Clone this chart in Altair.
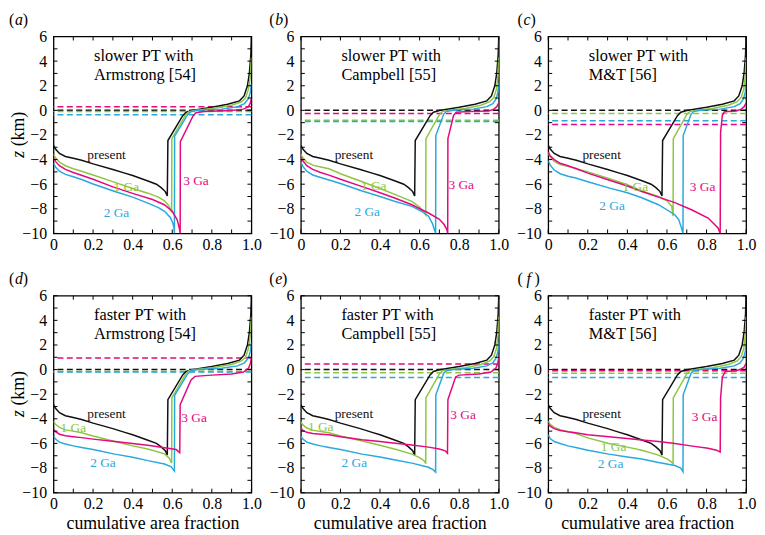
import altair as alt
import pandas as pd

W, H = 200, 199
SERIF = "Liberation Serif"
SERIES = ["present", "1 Ga", "2 Ga", "3 Ga"]
COLORS = ["#111111", "#8dc641", "#29a8df", "#e4097f"]

X_TICKS = [0, 0.1, 0.2, 0.3, 0.4, 0.5, 0.6, 0.7, 0.8, 0.9, 1.0]
X_LABELS = [0, 0.2, 0.4, 0.6, 0.8, 1.0]
Y_TICKS = [-10, -9, -8, -7, -6, -5, -4, -3, -2, -1, 0, 1, 2, 3, 4, 5, 6]
Y_LABELS = [-10, -8, -6, -4, -2, 0, 2, 4, 6]

# ---- present-day hypsometry (same in every panel) ----
PRESENT_X = [0, 0.01, 0.03, 0.06, 0.1, 0.142, 0.2, 0.3, 0.36, 0.4, 0.477, 0.52, 0.544, 0.565, 0.575,
             0.578, 0.653, 0.67, 0.70, 0.8, 0.88, 0.94, 0.963, 0.98, 0.99, 0.997, 1.0]
PRESENT_Z = [-2.85, -3.15, -3.5, -3.75, -3.9, -4.05, -4.35, -4.8, -5.1, -5.3, -5.74, -6.0, -6.28, -6.6, -6.95,
             -2.45, -0.43, -0.15, -0.02, 0.25, 0.5, 0.77, 1.17, 2.0, 3.05, 4.5, 6.0]

# ---- continental parts shared by several panels ----
GREEN_SHELF_1_X = [0.598, 0.668, 0.685, 0.72, 0.8, 0.9, 0.95, 0.97, 0.985, 0.995, 1.0]
GREEN_SHELF_1_Z = [-2.3, -0.35, -0.1, 0.0, 0.15, 0.42, 0.7, 1.0, 1.7, 2.8, 4.3]
GREEN_SHELF_2_X = [0.632, 0.70, 0.715, 0.75, 0.83, 0.91, 0.955, 0.975, 0.988, 0.996, 1.0]
GREEN_SHELF_2_Z = [-2.3, -0.35, -0.1, 0.0, 0.15, 0.42, 0.7, 1.05, 1.7, 2.8, 4.3]
BLUE_SHELF_1_X = [0.612, 0.678, 0.695, 0.73, 0.85, 0.93, 0.965, 0.985, 0.995, 1.0]
BLUE_SHELF_1_Z = [-2.1, -0.35, -0.1, 0.0, 0.1, 0.3, 0.55, 0.95, 1.5, 2.2]
BLUE_SHELF_2_X = [0.682, 0.722, 0.735, 0.77, 0.87, 0.94, 0.97, 0.987, 0.996, 1.0]
BLUE_SHELF_2_Z = [-2.05, -0.3, -0.1, 0.0, 0.1, 0.3, 0.55, 0.95, 1.5, 2.2]

# ---- panel (a) ----
A_GREEN_X = [0, 0.01, 0.03, 0.06, 0.1, 0.142, 0.2, 0.31, 0.4, 0.477, 0.53, 0.561, 0.585, 0.597]
A_GREEN_Z = [-3.55, -3.85, -4.2, -4.5, -4.75, -4.95, -5.25, -5.85, -6.35, -6.73, -7.05, -7.35, -7.8, -8.3]
A_BLUE_X = [0, 0.01, 0.03, 0.06, 0.1, 0.142, 0.2, 0.31, 0.4, 0.477, 0.53, 0.561, 0.59, 0.603, 0.609, 0.611]
A_BLUE_Z = [-4.3, -4.6, -4.95, -5.2, -5.4, -5.62, -5.98, -6.6, -7.05, -7.54, -7.9, -8.2, -8.7, -9.15, -9.6, -10]
A_MAG_X = [0, 0.01, 0.03, 0.06, 0.1, 0.2, 0.3, 0.4, 0.5, 0.56, 0.6, 0.625, 0.636, 0.64,
           0.641, 0.705, 0.72, 0.76, 0.9, 0.96, 0.985, 0.995, 1.0]
A_MAG_Z = [-3.85, -4.15, -4.5, -4.8, -5.05, -5.6, -6.22, -6.75, -7.25, -7.67, -8.2, -8.9, -9.6, -10,
           -2.55, -0.45, -0.2, -0.1, -0.02, 0.1, 0.3, 0.6, 1.0]

# ---- panel (b) ----
B_GREEN_X = [0, 0.01, 0.03, 0.06, 0.1, 0.142, 0.2, 0.31, 0.4, 0.477, 0.561, 0.6, 0.625, 0.631]
B_GREEN_Z = [-3.55, -3.85, -4.2, -4.45, -4.6, -4.75, -5.15, -5.8, -6.35, -6.85, -7.4, -7.85, -8.35, -8.5]
B_BLUE_X = [0, 0.01, 0.03, 0.06, 0.1, 0.142, 0.2, 0.31, 0.4, 0.477, 0.561, 0.61, 0.645, 0.665, 0.675, 0.681]
B_BLUE_Z = [-4.2, -4.55, -4.95, -5.25, -5.45, -5.66, -5.95, -6.55, -7.0, -7.4, -7.8, -8.2, -8.6, -9.2, -9.7, -10]
B_MAG_X = [0, 0.01, 0.03, 0.06, 0.1, 0.142, 0.2, 0.31, 0.4, 0.477, 0.561, 0.645, 0.7, 0.725, 0.738, 0.742,
           0.743, 0.772, 0.785, 0.85, 0.95, 0.975, 0.99, 1.0]
B_MAG_Z = [-3.8, -4.1, -4.5, -4.8, -5.05, -5.26, -5.6, -6.2, -6.7, -7.14, -7.67, -8.34, -8.85, -9.3, -9.7, -10,
           -2.3, -0.4, -0.15, -0.1, -0.05, 0.1, 0.3, 0.6]

# ---- panel (c) ----
C_GREEN_X = [0, 0.01, 0.03, 0.06, 0.1, 0.139, 0.2, 0.306, 0.4, 0.473, 0.557, 0.6, 0.624, 0.631]
C_GREEN_Z = [-3.5, -3.8, -4.15, -4.4, -4.55, -4.72, -5.0, -5.53, -6.05, -6.55, -7.0, -7.35, -7.8, -8.6]
C_BLUE_X = [0, 0.01, 0.03, 0.06, 0.1, 0.139, 0.2, 0.306, 0.4, 0.473, 0.557, 0.64, 0.66, 0.673, 0.681]
C_BLUE_Z = [-4.1, -4.45, -4.85, -5.15, -5.35, -5.5, -5.8, -6.3, -6.7, -7.1, -7.67, -8.48, -8.9, -9.55, -10]
C_MAG_X = [0, 0.01, 0.03, 0.06, 0.1, 0.139, 0.2, 0.306, 0.4, 0.473, 0.557, 0.64, 0.724, 0.808, 0.858, 0.869,
           0.871, 0.88, 0.89, 0.95, 0.975, 0.99, 1.0]
C_MAG_Z = [-3.4, -3.7, -4.0, -4.3, -4.5, -4.72, -5.1, -5.66, -6.15, -6.6, -7.05, -7.5, -8.08, -8.75, -9.55, -10,
           -1.8, -0.4, -0.12, -0.05, 0.1, 0.3, 0.6]

# ---- panel (d) ----
D_GREEN_X = [0, 0.01, 0.03, 0.06, 0.1, 0.142, 0.2, 0.31, 0.4, 0.477, 0.561, 0.585, 0.597]
D_GREEN_Z = [-4.2, -4.45, -4.7, -4.9, -5.0, -5.13, -5.4, -5.85, -6.2, -6.45, -6.85, -7.2, -7.6]
D_BLUE_X = [0, 0.01, 0.03, 0.06, 0.1, 0.142, 0.2, 0.31, 0.4, 0.477, 0.561, 0.595, 0.611]
D_BLUE_Z = [-5.4, -5.65, -5.9, -6.05, -6.2, -6.33, -6.5, -6.87, -7.12, -7.4, -7.67, -7.9, -8.25]
D_MAG_X = [0, 0.01, 0.03, 0.06, 0.1, 0.142, 0.2, 0.31, 0.477, 0.561, 0.62, 0.638,
           0.64, 0.695, 0.715, 0.8, 0.9, 0.96, 0.985, 0.995, 1.0]
D_MAG_Z = [-4.85, -5.05, -5.25, -5.38, -5.45, -5.53, -5.65, -5.85, -6.15, -6.35, -6.5, -6.75,
           -2.85, -0.85, -0.55, -0.45, -0.35, -0.2, 0.1, 0.5, 1.0]

# ---- panel (e) ----
E_GREEN_X = [0, 0.01, 0.03, 0.06, 0.1, 0.142, 0.2, 0.31, 0.4, 0.477, 0.561, 0.6, 0.625, 0.631]
E_GREEN_Z = [-4.25, -4.5, -4.75, -4.92, -5.03, -5.13, -5.4, -5.8, -6.15, -6.47, -6.87, -7.15, -7.45, -7.65]
E_BLUE_X = [0, 0.01, 0.03, 0.06, 0.1, 0.142, 0.2, 0.31, 0.4, 0.477, 0.561, 0.645, 0.67, 0.681]
E_BLUE_Z = [-5.4, -5.65, -5.9, -6.05, -6.2, -6.33, -6.5, -6.87, -7.1, -7.35, -7.6, -7.94, -8.15, -8.34]
E_MAG_X = [0, 0.01, 0.03, 0.06, 0.1, 0.142, 0.2, 0.31, 0.4, 0.477, 0.561, 0.645, 0.7, 0.73, 0.741,
           0.743, 0.782, 0.8, 0.9, 0.96, 0.985, 0.995, 1.0]
E_MAG_Z = [-4.75, -4.95, -5.1, -5.2, -5.25, -5.3, -5.45, -5.7, -5.85, -5.98, -6.12, -6.3, -6.45, -6.6, -6.8,
           -2.45, -0.6, -0.45, -0.35, -0.2, 0.1, 0.5, 1.0]

# ---- panel (f) ----
F_GREEN_X = [0, 0.01, 0.03, 0.06, 0.1, 0.139, 0.2, 0.306, 0.4, 0.473, 0.557, 0.6, 0.622, 0.631]
F_GREEN_Z = [-4.2, -4.45, -4.7, -4.88, -5.05, -5.2, -5.55, -6.0, -6.3, -6.55, -6.95, -7.25, -7.5, -7.65]
F_BLUE_X = [0, 0.01, 0.03, 0.06, 0.1, 0.139, 0.2, 0.306, 0.4, 0.473, 0.557, 0.64, 0.67, 0.681]
F_BLUE_Z = [-5.3, -5.6, -5.85, -6.0, -6.2, -6.33, -6.55, -6.87, -7.1, -7.27, -7.55, -7.8, -8.0, -8.3]
F_MAG_X = [0, 0.01, 0.03, 0.06, 0.1, 0.139, 0.2, 0.306, 0.4, 0.473, 0.557, 0.64, 0.72, 0.808, 0.85, 0.869,
           0.871, 0.88, 0.895, 0.95, 0.975, 0.99, 1.0]
F_MAG_Z = [-4.4, -4.6, -4.8, -4.95, -5.05, -5.13, -5.3, -5.45, -5.6, -5.72, -5.85, -6.0, -6.2, -6.4, -6.55, -6.7,
           -2.3, -0.6, -0.15, -0.1, 0.05, 0.2, 0.5]

# ---- sea levels (dashed), order: present, 1 Ga, 2 Ga, 3 Ga ----
SEA_A = [0.0, -0.1, -0.35, 0.3]
SEA_B = [0.0, -0.8, -0.9, -0.25]
SEA_C = [0.0, -0.25, -0.85, -1.15]
SEA_D = [0.0, -0.15, -0.2, 0.95]
SEA_E = [0.0, -0.25, -0.65, 0.45]
SEA_F = [0.0, -0.3, -0.65, -0.1]

# ---- curve label anchors (x, z), order: present, 1 Ga, 2 Ga, 3 Ga ----
LAB_A = [(0.268, -3.6), (0.368, -6.2), (0.318, -8.35), (0.72, -5.74)]
LAB_B = [(0.268, -3.6), (0.368, -6.15), (0.335, -8.26), (0.81, -6.1)]
LAB_C = [(0.27, -3.6), (0.44, -6.2), (0.323, -7.8), (0.78, -6.2)]
LAB_D = [(0.268, -3.6), (0.10, -4.72), (0.25, -7.6), (0.71, -3.92)]
LAB_E = [(0.268, -3.6), (0.10, -4.7), (0.27, -7.6), (0.82, -3.7)]
LAB_F = [(0.27, -3.6), (0.33, -6.33), (0.315, -7.7), (0.79, -3.87)]

TITLE_LINE1 = {"a": "slower PT with", "b": "slower PT with", "c": "slower PT with",
               "d": "faster PT with", "e": "faster PT with", "f": "faster PT with"}
TITLE_LINE2 = {"a": "Armstrong [54]", "b": "Campbell [55]", "c": "M&T [56]",
               "d": "Armstrong [54]", "e": "Campbell [55]", "f": "M&T [56]"}
TITLE_X = 0.205
TITLE_Z = [4.45, 2.85]

CURVES = {
    "a": [(PRESENT_X, PRESENT_Z), (A_GREEN_X + GREEN_SHELF_1_X, A_GREEN_Z + GREEN_SHELF_1_Z),
          (A_BLUE_X + BLUE_SHELF_1_X, A_BLUE_Z + BLUE_SHELF_1_Z), (A_MAG_X, A_MAG_Z)],
    "b": [(PRESENT_X, PRESENT_Z), (B_GREEN_X + GREEN_SHELF_2_X, B_GREEN_Z + GREEN_SHELF_2_Z),
          (B_BLUE_X + BLUE_SHELF_2_X, B_BLUE_Z + BLUE_SHELF_2_Z), (B_MAG_X, B_MAG_Z)],
    "c": [(PRESENT_X, PRESENT_Z), (C_GREEN_X + GREEN_SHELF_2_X, C_GREEN_Z + GREEN_SHELF_2_Z),
          (C_BLUE_X + BLUE_SHELF_2_X, C_BLUE_Z + BLUE_SHELF_2_Z), (C_MAG_X, C_MAG_Z)],
    "d": [(PRESENT_X, PRESENT_Z), (D_GREEN_X + GREEN_SHELF_1_X, D_GREEN_Z + GREEN_SHELF_1_Z),
          (D_BLUE_X + BLUE_SHELF_1_X, D_BLUE_Z + BLUE_SHELF_1_Z), (D_MAG_X, D_MAG_Z)],
    "e": [(PRESENT_X, PRESENT_Z), (E_GREEN_X + GREEN_SHELF_2_X, E_GREEN_Z + GREEN_SHELF_2_Z),
          (E_BLUE_X + BLUE_SHELF_2_X, E_BLUE_Z + BLUE_SHELF_2_Z), (E_MAG_X, E_MAG_Z)],
    "f": [(PRESENT_X, PRESENT_Z), (F_GREEN_X + GREEN_SHELF_2_X, F_GREEN_Z + GREEN_SHELF_2_Z),
          (F_BLUE_X + BLUE_SHELF_2_X, F_BLUE_Z + BLUE_SHELF_2_Z), (F_MAG_X, F_MAG_Z)],
}
SEA = {"a": SEA_A, "b": SEA_B, "c": SEA_C, "d": SEA_D, "e": SEA_E, "f": SEA_F}
LABELS = {"a": LAB_A, "b": LAB_B, "c": LAB_C, "d": LAB_D, "e": LAB_E, "f": LAB_F}

XS = alt.Scale(domain=[0, 1], nice=False, zero=False)
YS = alt.Scale(domain=[-10, 6], nice=False, zero=False)
CS = alt.Scale(domain=SERIES, range=COLORS)
TICK = 4


def curve_frame(key):
    rows = []
    for s, (xs, zs) in zip(SERIES, CURVES[key]):
        for i, (x, z) in enumerate(zip(xs, zs)):
            rows.append({"series": s, "x": x, "z": z, "i": i})
    return pd.DataFrame(rows)


def panel(key, left_col, bottom_row, letter_dx):
    xaxis_kw = dict(values=X_LABELS,
                    labelExpr="datum.value == 0 ? '0' : format(datum.value, '.1f')",
                    ticks=False, domain=False, grid=False, labelFont=SERIF, labelFontSize=16,
                    labelColor="black", labelPadding=3, labelFlush=False, labelOverlap=False)
    if bottom_row:
        xaxis_kw.update(title="cumulative area fraction", titleFont=SERIF, titleFontSize=18,
                        titleFontWeight="normal", titleColor="black", titlePadding=3)
    else:
        xaxis_kw.update(title="")
    xaxis = alt.Axis(**xaxis_kw)
    yaxis = alt.Axis(values=Y_LABELS,
                     labelExpr="datum.value < 0 ? '\u2212' + abs(datum.value) : '' + datum.value",
                     ticks=False, domain=False, grid=False, labelFont=SERIF, labelFontSize=16,
                     labelColor="black", labelPadding=7, labelOverlap=False, title="")

    def X(f):
        return alt.X(f, scale=XS, axis=xaxis)

    def Y(f):
        return alt.Y(f, scale=YS, axis=yaxis)

    color = alt.Color("series:N", scale=CS, legend=None)

    sea = pd.DataFrame({"series": SERIES, "z": SEA[key]})
    dashed = alt.Chart(sea).mark_rule(strokeDash=[6, 3.5], strokeWidth=1.5).encode(
        y=Y("z:Q"), color=color)

    lines = alt.Chart(curve_frame(key)).mark_line(strokeWidth=1.5, clip=True).encode(
        x=X("x:Q"), y=Y("z:Q"), order=alt.Order("i:Q"), detail="series:N", color=color)

    lab = pd.DataFrame({"series": SERIES,
                        "x": [p[0] for p in LABELS[key]],
                        "z": [p[1] for p in LABELS[key]]})
    labels = alt.Chart(lab).mark_text(font=SERIF, fontSize=13.5, align="center", baseline="middle").encode(
        x=X("x:Q"), y=Y("z:Q"), text="series:N", color=color)

    tt = pd.DataFrame({"t": [TITLE_LINE1[key], TITLE_LINE2[key]], "x": [TITLE_X, TITLE_X], "z": TITLE_Z})
    title = alt.Chart(tt).mark_text(font=SERIF, fontSize=16.5, align="left", baseline="middle",
                                    color="black").encode(x=X("x:Q"), y=Y("z:Q"), text="t:N")

    xt = pd.DataFrame({"t": X_TICKS})
    yt = pd.DataFrame({"t": Y_TICKS})
    rule = dict(color="black", strokeWidth=1)
    tb = alt.Chart(xt).mark_rule(**rule).encode(x=X("t:Q"), y=alt.value(H), y2=alt.value(H - TICK))
    ttop = alt.Chart(xt).mark_rule(**rule).encode(x=X("t:Q"), y=alt.value(0), y2=alt.value(TICK))
    tl = alt.Chart(yt).mark_rule(**rule).encode(y=Y("t:Q"), x=alt.value(0), x2=alt.value(TICK))
    tr = alt.Chart(yt).mark_rule(**rule).encode(y=Y("t:Q"), x=alt.value(W), x2=alt.value(W - TICK))

    one = pd.DataFrame({"k": [0]})
    lp = alt.Chart(one).mark_text(font=SERIF, fontSize=16, align="left", baseline="middle",
                                  color="black").encode(
        x=alt.value(letter_dx), y=alt.value(-17), text=alt.value("("))
    ll = alt.Chart(one).mark_text(font=SERIF, fontSize=16, fontStyle="italic", align="left",
                                  baseline="middle", color="black").encode(
        x=alt.value(letter_dx + 6 + (3 if key == "f" else 0)), y=alt.value(-17), text=alt.value(key))
    rp_off = {"a": 14, "b": 14, "c": 13, "d": 14, "e": 13, "f": 17}[key]
    rp = alt.Chart(one).mark_text(font=SERIF, fontSize=16, align="left", baseline="middle",
                                  color="black").encode(
        x=alt.value(letter_dx + rp_off), y=alt.value(-17), text=alt.value(")"))

    layers = [dashed, lines, labels, title, tb, ttop, tl, tr, lp, ll, rp]
    if left_col:
        zt = alt.Chart(one).mark_text(font=SERIF, fontSize=18, fontStyle="italic", angle=270,
                                      align="left", baseline="middle", color="black").encode(
            x=alt.value(-35), y=alt.value(H / 2 + 23), text=alt.value("z"))
        km = alt.Chart(one).mark_text(font=SERIF, fontSize=18, angle=270,
                                      align="left", baseline="middle", color="black").encode(
            x=alt.value(-35), y=alt.value(H / 2 + 11.5), text=alt.value("(km)"))
        layers += [zt, km]
    return alt.layer(*layers).properties(width=W, height=H)


panels = [panel("a", True, False, -45), panel("b", False, False, -32), panel("c", False, False, -31),
          panel("d", True, True, -45), panel("e", False, True, -32), panel("f", False, True, -31)]

chart = alt.concat(*panels, columns=3, spacing={"row": 63, "column": 50}, bounds="flush").properties(
    padding=0, background="white"
).configure_view(stroke="black", strokeWidth=1.3)

chart.save("out.html", embed_options={"renderer": "svg", "actions": False})
